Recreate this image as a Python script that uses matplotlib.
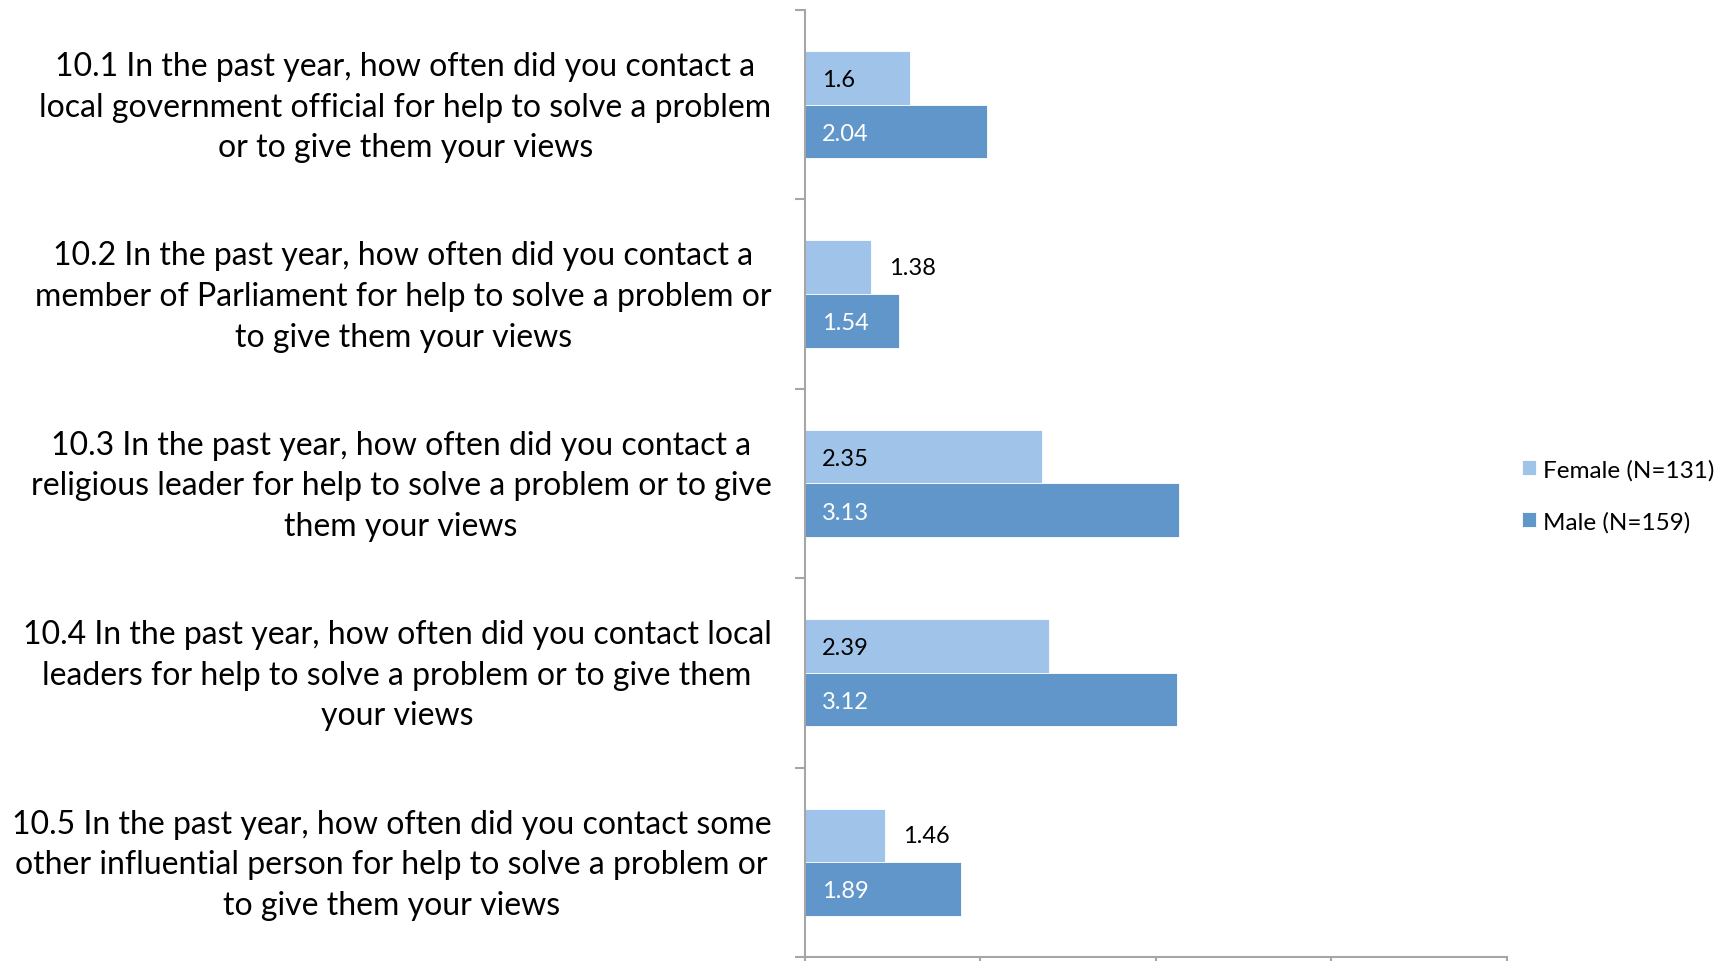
import matplotlib
matplotlib.use("Agg")
import matplotlib.pyplot as plt
import numpy as np

plt.rcParams['font.family'] = ['Lato', 'DejaVu Sans']

categories = [
    "10.1 In the past year, how often did you contact a\nlocal government official for help to solve a problem\nor to give them your views",
    "10.2 In the past year, how often did you contact a\nmember of Parliament for help to solve a problem or\nto give them your views",
    "10.3 In the past year, how often did you contact a\nreligious leader for help to solve a problem or to give\nthem your views",
    "10.4 In the past year, how often did you contact local\nleaders for help to solve a problem or to give them\nyour views",
    "10.5 In the past year, how often did you contact some\nother influential person for help to solve a problem or\nto give them your views",
]
female = [1.6, 1.38, 2.35, 2.39, 1.46]
male = [2.04, 1.54, 3.13, 3.12, 1.89]
series_names = ["Female (N=131)", "Male (N=159)"]
x_min, x_max = 1, 5

c_female = "#9FC3E9"
c_male = "#6096CA"

fig = plt.figure(figsize=(17.35, 9.62), dpi=100)
ax = fig.add_axes([0.4637, 0.0042, 0.8686 - 0.4637, 0.9844])

y = np.arange(len(categories))
h = 0.283
bf = ax.barh(y - h / 2, np.array(female) - x_min, left=x_min, height=h, color=c_female,
             edgecolor="white", linewidth=0.6, label=series_names[0])
bm = ax.barh(y + h / 2, np.array(male) - x_min, left=x_min, height=h, color=c_male,
             edgecolor="white", linewidth=0.6, label=series_names[1])

ax.set_xlim(x_min, x_max)
ax.set_ylim(len(categories) - 0.5, -0.5)

pad = 0.1
for vals, yy, col in [(female, y - h / 2, "black"), (male, y + h / 2, "white")]:
    for v, yc in zip(vals, yy):
        if v - x_min > 0.5:
            ax.text(x_min + pad, yc + 0.01, f"{v:g}", va="center", ha="left", fontsize=17, color=col)
        else:
            ax.text(v + pad, yc, f"{v:g}", va="center", ha="left", fontsize=17, color="black")

for i, lab in enumerate(categories):
    ax.text(-0.047, i + 0.01, lab, transform=ax.get_yaxis_transform(), ha="right", va="center",
            multialignment="center", fontsize=23, linespacing=1.44)

for s in ["top", "right"]:
    ax.spines[s].set_visible(False)
for s in ["left", "bottom"]:
    ax.spines[s].set_color("#A6A6A6")
    ax.spines[s].set_linewidth(1.5)

ax.set_xticks(np.arange(x_min, x_max + 1))
ax.set_xticklabels([])
ax.set_yticks(np.arange(-0.5, len(categories), 1.0))
ax.set_yticklabels([])
ax.tick_params(axis="both", direction="out", length=7, width=1.5, color="#A6A6A6")

leg = fig.legend(handles=[bf, bm], labels=series_names, loc="center left",
                 bbox_to_anchor=(0.8775, 0.484), frameon=False, fontsize=17.5,
                 borderpad=0, borderaxespad=0,
                 handlelength=0.55, handleheight=0.55, handletextpad=0.3, labelspacing=1.25)

fig.savefig("out.png", dpi=100)
